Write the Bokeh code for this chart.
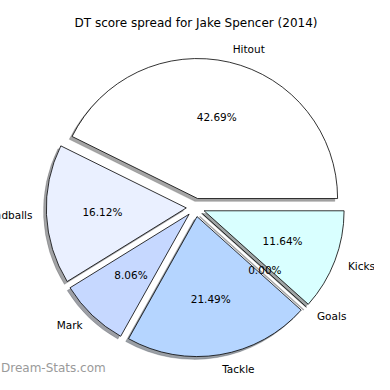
import numpy as np
from bokeh.plotting import figure
from bokeh.models import Range1d
from bokeh.core.properties import value
from bokeh.embed import file_html
from bokeh.resources import INLINE

title = "DT score spread for Jake Spencer (2014)"
categories = ["Hitout", "Handballs", "Mark", "Tackle", "Goals", "Kicks"]
percents = [42.69, 16.12, 8.06, 21.49, 0.00, 11.64]
colors = ["#ffffff", "#eaf0ff", "#c6d8ff", "#b5d5ff", "#ffffff", "#d9ffff"]
watermark = "Dream-Stats.com"

# geometry (data units == pixels)
W = H = 374
CX, CY = 195.0, 183.0
R = 140.0
EXPLODE = 9.2
SH = 2.8
FONT = "DejaVu Sans"

vals = np.array(percents, dtype=float)
frac = vals / vals.sum()
ends = np.cumsum(frac) * 2 * np.pi
starts = ends - frac * 2 * np.pi
mids = (starts + ends) / 2
cx = CX + EXPLODE * np.cos(mids)
cy = CY + EXPLODE * np.sin(mids)

def shade(hexc):
    r, g, b = (int(hexc[i:i + 2], 16) for i in (1, 3, 5))
    return "#%02x%02x%02x" % (int(r * 0.3), int(g * 0.3), int(b * 0.3))

p = figure(width=W, height=H, output_backend="svg", toolbar_location=None,
           x_range=Range1d(0, W), y_range=Range1d(16, 16 + H),
           min_border=0)
p.axis.visible = False
p.grid.visible = False
p.outline_line_color = None
p.background_fill_color = "white"
p.border_fill_color = "white"

nz = frac > 0
zr = ~nz
sh_cols = [shade(c) for c, k in zip(colors, nz) if k]

# shadows
p.wedge(x=cx[nz] - SH, y=cy[nz] - SH, radius=R, start_angle=starts[nz], end_angle=ends[nz],
        fill_color=sh_cols, fill_alpha=0.5, line_color=sh_cols, line_alpha=0.5, line_width=0.5)
p.segment(x0=cx[zr] - SH, y0=cy[zr] - SH,
          x1=cx[zr] - SH + R * np.cos(starts[zr]), y1=cy[zr] - SH + R * np.sin(starts[zr]),
          line_color="#4d4d4d", line_alpha=0.5, line_width=1.5)

# wedges
p.wedge(x=cx[nz], y=cy[nz], radius=R, start_angle=starts[nz], end_angle=ends[nz],
        fill_color=[c for c, k in zip(colors, nz) if k], line_color="black", line_width=0.8)
p.segment(x0=cx[zr], y0=cy[zr],
          x1=cx[zr] + R * np.cos(starts[zr]), y1=cy[zr] + R * np.sin(starts[zr]),
          line_color="black", line_width=0.8)

# labels
lx = cx + 1.1 * R * np.cos(mids)
ly = cy + 1.1 * R * np.sin(mids)
aligns = ["left" if np.cos(m) > 0 else "right" for m in mids]
p.text(x=lx, y=ly, text=categories, text_align=aligns, text_baseline="middle",
       text_font=value(FONT), text_font_size="10.5px", text_color="black")

px = cx + 0.6 * R * np.cos(mids)
py = cy + 0.6 * R * np.sin(mids)
p.text(x=px, y=py, text=["%.2f%%" % v for v in percents], text_align="center",
       text_baseline="middle", text_font=value(FONT), text_font_size="10.5px",
       text_color="black")

# title and watermark
p.text(x=[195.5], y=[368], text=[title], text_align="center", text_baseline="middle",
       text_font=value(FONT), text_font_size="12px", text_color="black")
p.text(x=[0.5], y=[23], text=[watermark], text_align="left", text_baseline="middle",
       text_font=value(FONT), text_font_size="12px", text_color="#9a9a9a")

open("out.html", "w").write(file_html(p, INLINE))
